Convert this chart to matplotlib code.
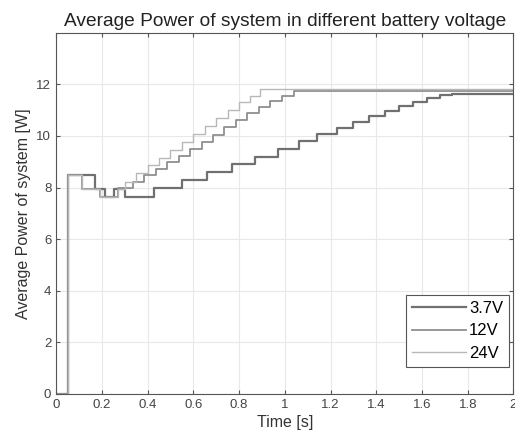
import matplotlib
matplotlib.use('Agg')
import matplotlib.pyplot as plt

# step data: time where each level starts, and the level [W]
t_37 = [0, 0.05, 0.17, 0.215, 0.255, 0.30, 0.43, 0.55, 0.66, 0.77, 0.87, 0.97,
        1.06, 1.14, 1.23, 1.30, 1.37, 1.44, 1.50, 1.56, 1.62, 1.68, 1.73, 2.0]
p_37 = [0, 8.5, 7.95, 7.62, 7.95, 7.62, 7.97, 8.28, 8.6, 8.9, 9.2, 9.5,
        9.8, 10.08, 10.3, 10.54, 10.77, 10.95, 11.15, 11.3, 11.46, 11.59, 11.64, 11.64]

t_12 = [0, 0.05, 0.115, 0.19, 0.27, 0.336, 0.386, 0.436, 0.486, 0.536, 0.586, 0.636,
        0.686, 0.736, 0.786, 0.836, 0.886, 0.936, 0.986, 1.04, 2.0]
p_12 = [0, 8.5, 7.95, 7.62, 7.97, 8.23, 8.48, 8.73, 8.98, 9.23, 9.48, 9.75,
        10.05, 10.35, 10.62, 10.9, 11.12, 11.35, 11.55, 11.76, 11.76]

t_24 = [0, 0.05, 0.115, 0.19, 0.27, 0.30, 0.35, 0.40, 0.45, 0.50, 0.55, 0.60,
        0.65, 0.70, 0.75, 0.80, 0.85, 0.89, 2.0]
p_24 = [0, 8.5, 7.95, 7.62, 7.95, 8.23, 8.55, 8.87, 9.15, 9.45, 9.77, 10.09,
        10.4, 10.7, 11.0, 11.3, 11.55, 11.83, 11.83]

plt.rcParams['font.family'] = ['Liberation Sans', 'DejaVu Sans']

fig = plt.figure(figsize=(5.15, 4.43), dpi=100)
ax = fig.add_axes([0.109, 0.111, 0.888, 0.815])

ax.step(t_37, p_37, where='post', color='#707070', lw=1.6, label='3.7V')
ax.step(t_12, p_12, where='post', color='#8f8f8f', lw=1.3, label='12V')
ax.step(t_24, p_24, where='post', color='#b8b8b8', lw=1.0, label='24V')

ax.set_xlim(0, 2)
ax.set_ylim(0, 14)
ax.set_xticks([0, 0.2, 0.4, 0.6, 0.8, 1, 1.2, 1.4, 1.6, 1.8, 2])
ax.set_xticklabels(['0', '0.2', '0.4', '0.6', '0.8', '1', '1.2', '1.4', '1.6', '1.8', '2'])
ax.set_yticks([0, 2, 4, 6, 8, 10, 12])
ax.grid(True, color='#e8e8e8', lw=0.8)
ax.tick_params(direction='in', top=True, right=True, length=3, labelsize=9.5,
               colors='#555555', labelcolor='#444444')
for s in ax.spines.values():
    s.set_color('#555555')

ax.set_title('Average Power of system in different battery voltage', fontsize=13.8,
             color='#222222', pad=5)
ax.set_xlabel('Time [s]', fontsize=11.5, color='#333333', labelpad=3)
ax.set_ylabel('Average Power of system [W]', fontsize=11.5, color='#333333', labelpad=4)

leg = ax.legend(loc='lower right', bbox_to_anchor=(0.99, 0.075), fontsize=12, fancybox=False,
                edgecolor='#555555', framealpha=1, handlelength=3.2, borderpad=0.35,
                labelspacing=0.45, handletextpad=0.2, borderaxespad=0)
leg.get_frame().set_linewidth(0.8)

fig.savefig('out.png', dpi=100)
